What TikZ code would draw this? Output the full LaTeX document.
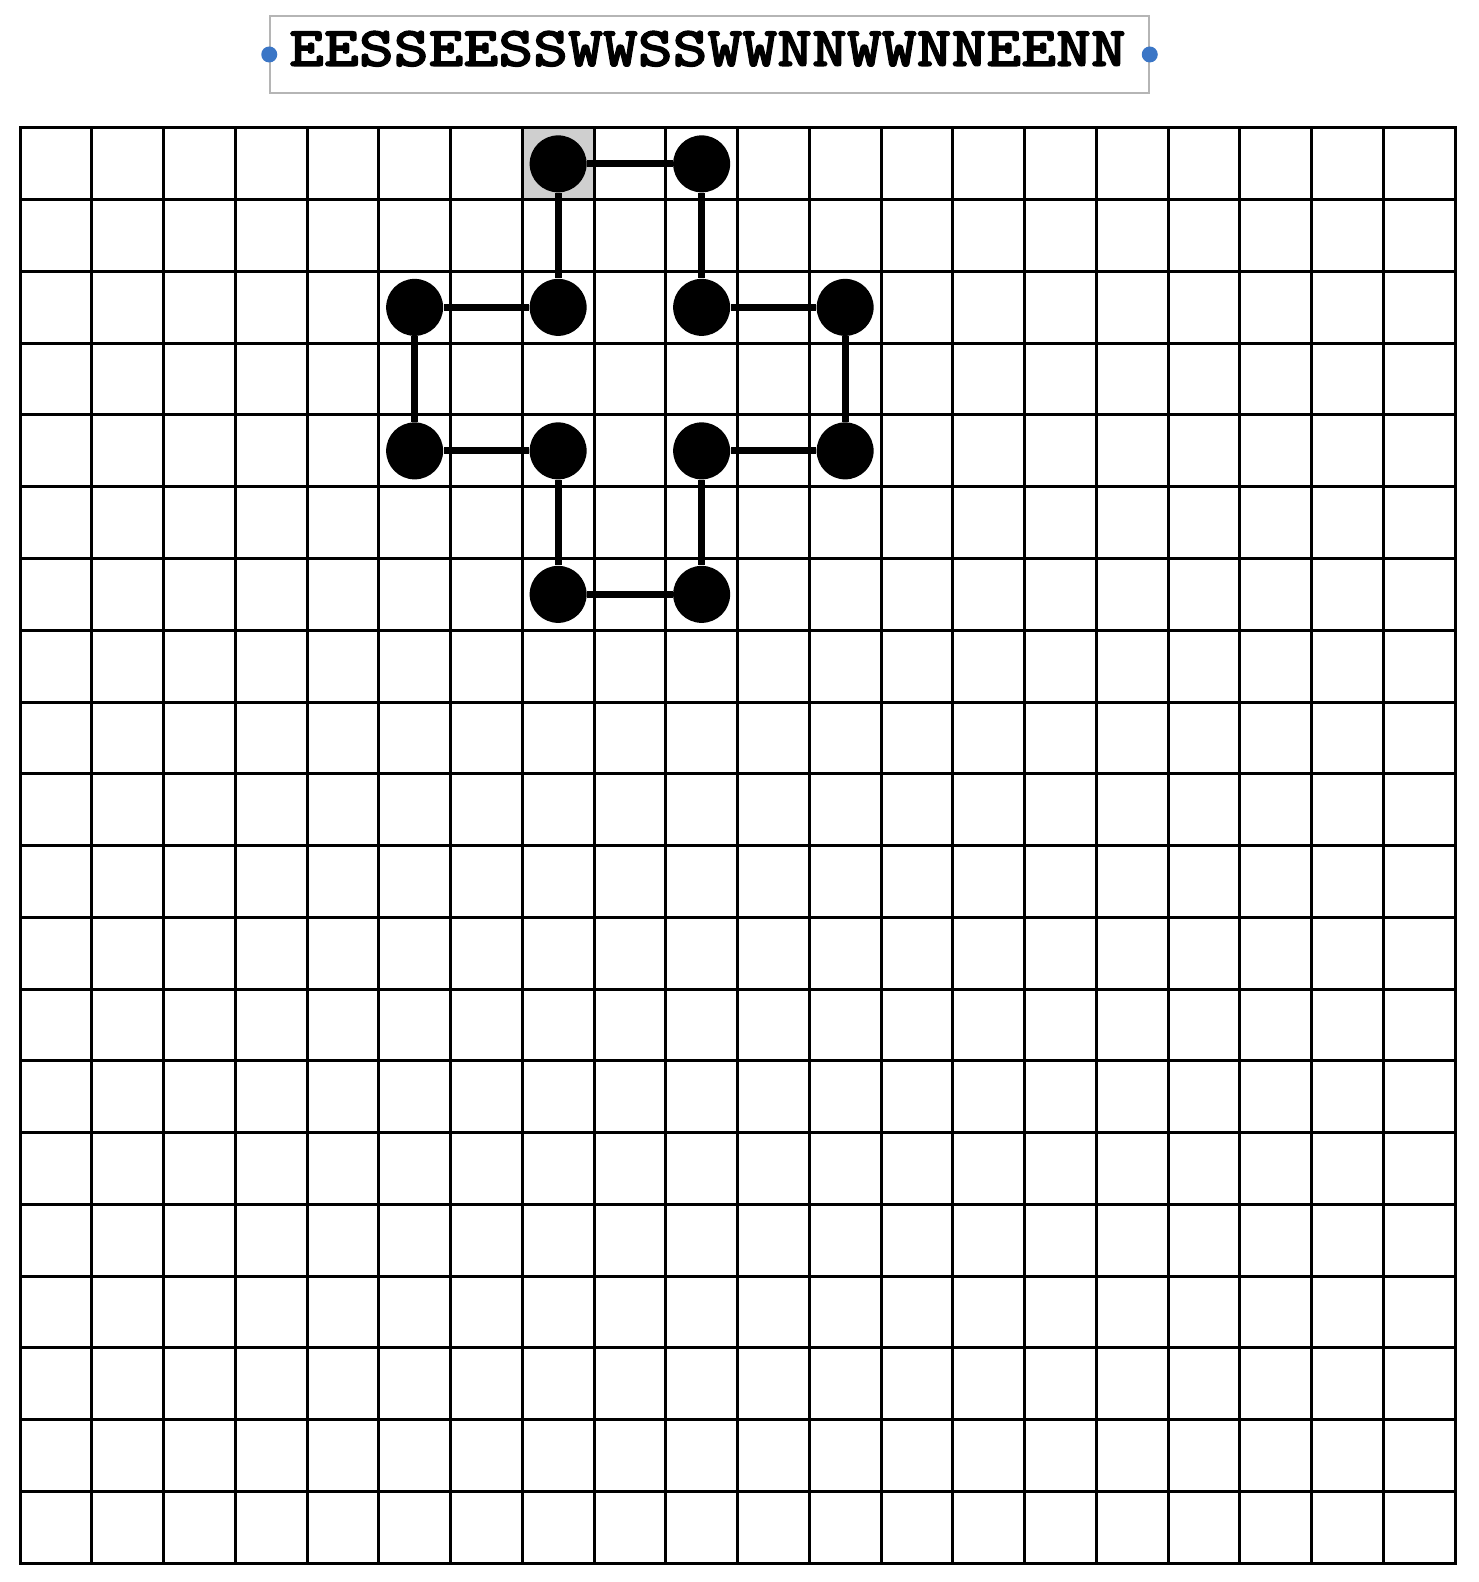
\documentclass[tikz,border=0pt]{standalone}
\definecolor{startgray}{HTML}{CFCFCF}
\definecolor{boxgray}{HTML}{B5B5B5}
\definecolor{pinblue}{HTML}{3B76C6}
\font\pathfont="[lmmonolt10-bold]:embolden=1.8" at 33.2pt
\begin{document}
\begin{tikzpicture}[x=0.5pt,y=-0.5pt,
  dot/.style={circle,fill=black,inner sep=0pt,minimum size=28.5pt},
  link/.style={line width=3.5pt},
  gridline/.style={line width=1.5pt,line cap=rect},
  pin/.style={circle,fill=pinblue,inner sep=0pt,minimum size=8pt},
  titlebox/.style={draw=boxgray,line width=0.75pt,rectangle,inner sep=0pt,minimum width=439.5pt,minimum height=38.5pt}]
\useasboundingbox (0,0) rectangle (1478,1582);
% start cell
\fill[startgray] (522.25,128) rectangle (594,199.75);
% grid
\foreach \i in {0,...,20} {
  \draw[gridline] ({20+\i*71.75},128) -- ({20+\i*71.75},1563);
  \draw[gridline] (20,{128+\i*71.75}) -- (1455,{128+\i*71.75});
}
% title
\node[titlebox] (tbox) at (709.5,54.5) {};
\node[anchor=base,inner sep=0pt] (ttext) at (707.5,66) {\scalebox{1}[0.85]{\pathfont EESSEESSWWSSWWNNWWNNEENN}};
\node[pin] (lpin) at (tbox.west) {};
\node[pin] (rpin) at (tbox.east) {};
% path dots
\foreach \n/\c/\r in {p1/7/0,p2/9/0,p3/9/2,p4/11/2,p5/11/4,p6/9/4,p7/9/6,p8/7/6,p9/7/4,p10/5/4,p11/5/2,p12/7/2} {
  \node[dot] (\n) at ({20+71.75*(\c+0.5)},{128+71.75*(\r+0.5)}) {};
}
\draw[link] (p1) -- (p2) -- (p3) -- (p4) -- (p5) -- (p6) -- (p7) -- (p8) -- (p9) -- (p10) -- (p11) -- (p12) -- (p1);
\end{tikzpicture}
\end{document}
